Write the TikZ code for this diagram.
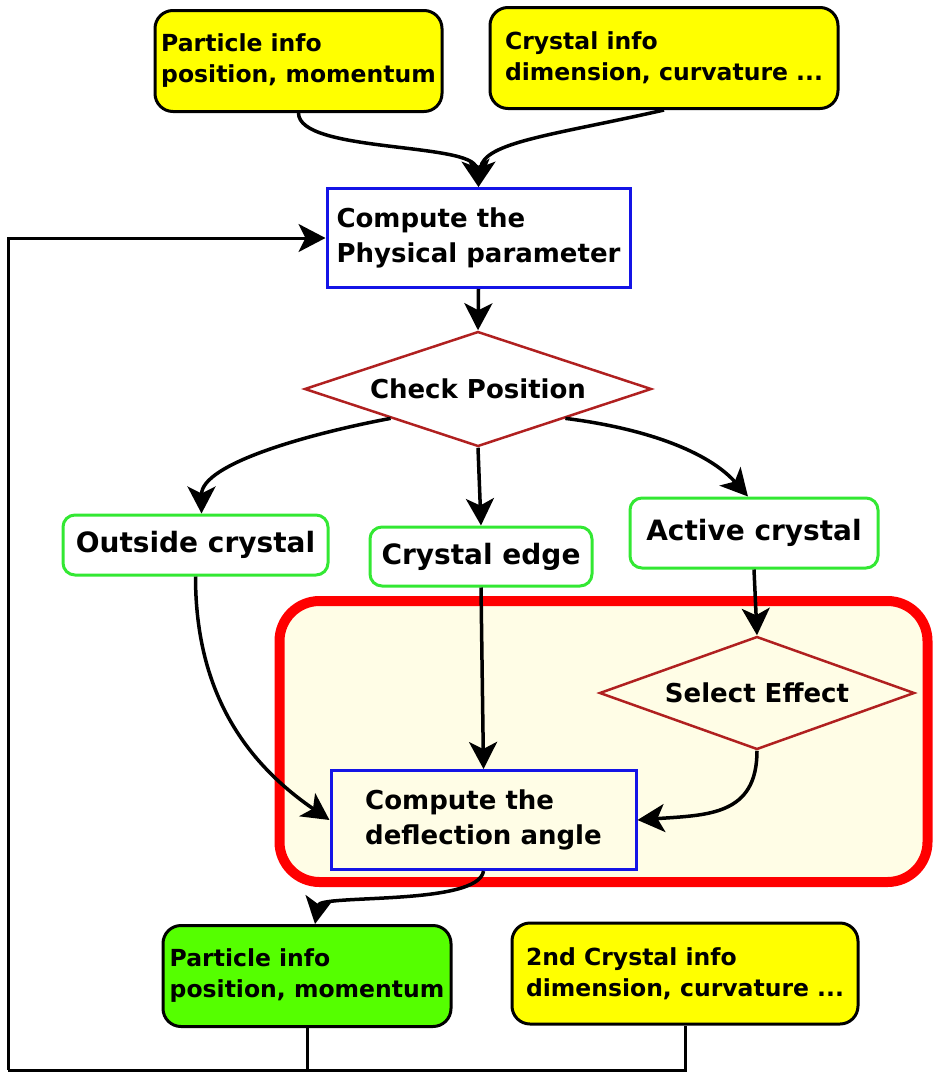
\documentclass[tikz,border=0pt]{standalone}
\usepackage{fontspec}
\setmainfont{DejaVu Sans}
\usetikzlibrary{shapes.geometric,arrows.meta}

\definecolor{infoyellow}{HTML}{FFFF00}
\definecolor{infogreen}{HTML}{55FF00}
\definecolor{stategreen}{HTML}{33E833}
\definecolor{procblue}{HTML}{1414E6}
\definecolor{decred}{HTML}{B02020}
\definecolor{groupfill}{HTML}{FFFDE6}

\tikzset{
  info/.style={draw=black, line width=3pt, rounded corners=18pt, fill=#1,
    align=left, inner sep=0pt, minimum height=101pt,
    font=\fontsize{23.5}{31}\selectfont\bfseries},
  info/.default=infoyellow,
  proc/.style={draw=procblue, line width=3pt, align=left, inner sep=0pt,
    minimum height=99pt, font=\fontsize{26}{35}\selectfont\bfseries},
  decision/.style={diamond, draw=decred, line width=2.5pt, inner sep=0pt,
    aspect=3, font=\fontsize{26}{30}\selectfont\bfseries},
  statebox/.style={draw=stategreen, line width=3pt, rounded corners=12pt,
    fill=white, inner sep=0pt, font=\fontsize{28}{32}\selectfont\bfseries},
  group/.style={draw=red, line width=10pt, rounded corners=40pt, fill=groupfill,
    minimum width=648pt, minimum height=281pt},
  bigtip/.style={-{Stealth[length=27pt,width=28pt,inset=7pt]}},
  flow/.style={bigtip, line width=3.5pt},
  back/.style={line width=3pt}
}

\begin{document}
\begin{tikzpicture}[x=1pt, y=-1pt]
  \useasboundingbox (0,0) rectangle (933,1072);

  % region around the effect selection
  \node[group] (region) at (603.5,741.5) {};

  % inputs
  \node[info, minimum width=287pt] (pin) at (298.5,61) {Particle info\\position, momentum};
  \node[info, minimum width=348pt] (cin) at (664,58) {Crystal info\\dimension, curvature ...};

  \node[proc, fill=white, minimum width=303pt] (phys) at (478.5,238) {Compute the\\Physical parameter};
  \node[decision, fill=white, minimum width=347pt, minimum height=115pt] (check) at (478,389) {Check Position};

  \node[statebox, minimum width=265pt, minimum height=60pt] (outside) at (195.5,545) {Outside crystal};
  \node[statebox, minimum width=222pt, minimum height=59pt] (edge) at (481,556.5) {Crystal edge};
  \node[statebox, minimum width=248pt, minimum height=70pt] (active) at (754,533) {Active crystal};

  \node[decision, minimum width=315pt, minimum height=113pt] (select) at (757,693) {Select Effect};
  \node[proc, minimum width=305pt] (deflect) at (483.5,820) {Compute the\\deflection angle};

  % outputs
  \node[info=infogreen, minimum width=288pt] (pout) at (307,976) {Particle info\\position, momentum};
  \node[info, minimum width=346pt] (cout) at (685,973.5) {2nd Crystal info\\dimension, curvature ...};

  \coordinate (loop) at (8,1070);

  \draw[flow] (pin.south) .. controls +(0,40) and +(-5,-45) .. (phys.north);
  \draw[flow] (cin.south) .. controls +(-110,25) and +(5,-45) .. (phys.north);
  \draw[flow] (phys.south) -- (check.north);
  \draw[flow] (check.south west) .. controls +(-80,15) and +(0,-50) .. ([xshift=6pt]outside.north);
  \draw[flow] (check.south) -- (edge.north);
  \draw[flow] (check.south east) .. controls +(80,10) and +(-40,-45) .. ([xshift=-6pt]active.north);
  \draw[flow] (outside.south) .. controls +(0,120) and +(-80,-55) .. (deflect.west);
  \draw[flow] (edge.south) -- (deflect.north);
  \draw[flow] (active.south) -- (select.north);
  \draw[flow] (select.south) .. controls +(0,65) and +(70,-5) .. (deflect.east);
  \draw[flow] (deflect.south) .. controls +(-5,35) and +(5,-30) .. ([xshift=8pt]pout.north);

  % feedback to the next crystal
  \draw[back] (pout.south) |- (loop);
  \draw[back] (cout.south) |- (loop);
  \draw[back, bigtip] (loop) |- (phys.west);
\end{tikzpicture}
\end{document}
